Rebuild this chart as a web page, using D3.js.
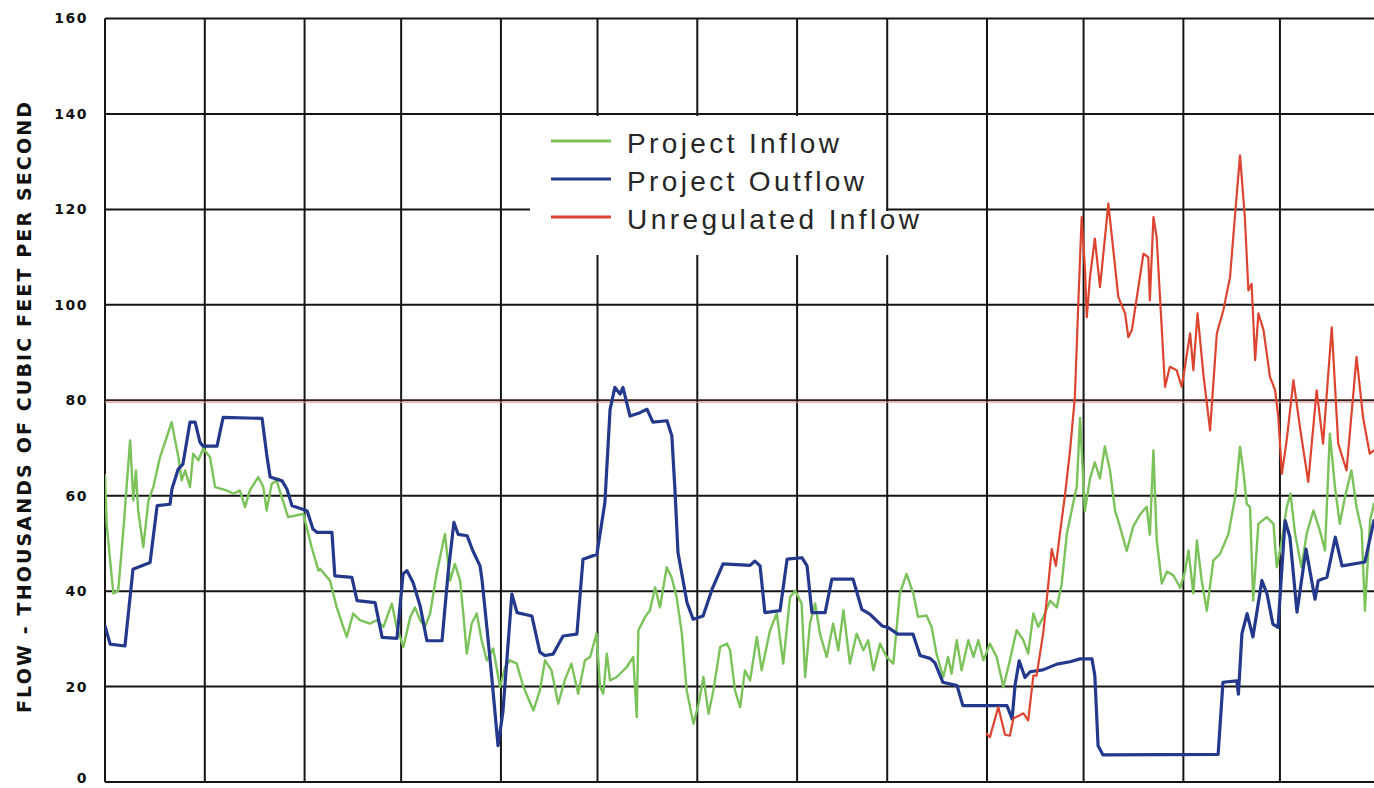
<!DOCTYPE html>
<html><head><meta charset="utf-8">
<script src="https://cdn.jsdelivr.net/npm/d3@7"></script>
<style>html,body{margin:0;padding:0;background:#fff;} svg{display:block;}</style>
</head><body>
<svg id="chart" width="1374" height="788"></svg>
<script>
// ---- data ----
const yTicks = [0, 20, 40, 60, 80, 100, 120, 140, 160];
const yTitle = "FLOW - THOUSANDS OF CUBIC FEET PER SECOND";
const seriesNames = ["Project Inflow", "Project Outflow", "Unregulated Inflow"];
const seriesColors = ["#7cc25a", "#24398c", "#dc4430"];
const startDay = Date.UTC(1984, 6, 1);   // day 0 = first gridline
const endDay = Date.UTC(1985, 7, 1);
// [days since start, thousand cfs]
const projectInflow = [[0,64.3],[0.5,54.1],[2.6,39.5],[4.1,40.1],[5.7,52.7],[7.8,71.6],[8.8,59],[9.6,65.3],[10.3,56.9],[11.9,49.2],[13.5,59],[15,61.8],[17.1,68.1],[19.2,72.3],[20.7,75.4],[22.8,68.1],[23.8,63.2],[24.9,65.3],[26.4,61.8],[27.4,68.8],[29,67.4],[30.5,69.9],[32.6,68.1],[34.2,61.8],[37.8,61.1],[39.9,60.4],[41.9,61.1],[43.5,57.6],[45,61.1],[47.6,63.9],[49.2,61.8],[50.2,56.9],[51.8,62.5],[53.3,63.2],[54.9,59.7],[56.9,55.5],[59.6,55.9],[61.6,56.2],[64.2,49.2],[66.3,44.3],[66.8,44.7],[69.9,42.2],[72,36.6],[74,32.5],[75.1,30.4],[77.1,35.3],[79.2,33.9],[82.3,33.2],[84.4,33.9],[86.5,32.5],[89.1,37.4],[90.6,32.5],[92.7,28.3],[94.8,34.5],[96.3,36.6],[97.9,33.9],[99.4,32.5],[101,35.3],[103,43.6],[105.6,52],[107.2,42.2],[108.7,45.7],[110.3,42.2],[111.3,35.3],[112.4,26.9],[113.9,33.2],[115.5,35.3],[117,29.7],[118.6,25.5],[120.6,28],[122.7,19.9],[124.3,24.1],[125.8,25.5],[127.9,24.8],[130,19.9],[133.1,15],[135.1,19.2],[136.7,25.5],[138.7,23.4],[140.8,16.4],[142.8,21.3],[144.9,24.8],[147,18.5],[149.1,25.5],[150.7,26.2],[152.7,31.1],[153.8,19.9],[154.8,18.5],[155.9,26.9],[156.9,21.3],[159,22],[162.1,24.1],[164.1,26.2],[165.2,13.6],[165.7,31.8],[167.8,34.6],[169.3,36],[170.9,40.8],[172.4,36.6],[174.5,45],[176,42.9],[177.6,38.7],[179.2,31.1],[180.7,19.2],[182.8,12.2],[184.4,16.4],[185.9,22],[187.5,14.3],[189,19.2],[191.1,28.3],[193.2,29],[194.2,27.6],[195.7,19.2],[197.3,15.7],[198.8,23.4],[200.4,21.3],[202.5,30.4],[204,23.4],[206.6,31.8],[208.7,35.3],[210.7,24.8],[212.8,38.7],[214.4,40.1],[216.4,37.4],[217.5,22],[219,33.2],[220.6,37.4],[222.1,31.1],[224.2,26.2],[226.2,33.2],[227.8,27.6],[229.4,36],[231.4,24.8],[233.5,31.1],[235.6,27.6],[237.1,29.7],[238.7,23.4],[240.8,29],[242.8,26.2],[244.9,24.8],[246.9,39.5],[249,43.6],[251.1,39.5],[252.6,34.6],[255.2,34.9],[256.8,32.5],[258.3,26.9],[260.4,22],[261.9,26.2],[263,22.7],[264.6,29.7],[266.1,23.4],[268.2,29.7],[269.8,26.2],[271.3,29.7],[272.9,25.5],[274.9,29],[277,26.2],[279.1,19.9],[281.1,25.5],[283.2,31.8],[285.3,29.7],[286.8,26.9],[288.4,35.3],[289.9,32.5],[291.5,34.6],[293.6,38],[295.7,36.6],[297.2,41.5],[298.8,52],[300.3,56.9],[301.9,62],[302.9,76.3],[304.4,56.8],[306,63.6],[307.5,67],[309.1,63.6],[310.6,70.3],[312.2,65.3],[313.8,56.8],[315.3,53.5],[317.4,48.4],[319.4,53.5],[321.5,56],[323.6,57.7],[324.6,51.8],[325.7,69.5],[326.7,50.9],[328.3,41.6],[329.9,44.1],[331.9,43.3],[334,40.7],[335.5,44.1],[336.6,48.5],[338.1,39.5],[339.2,50.6],[340.7,42.2],[342.3,35.9],[344.3,46.4],[346.4,47.8],[349,52],[351.1,59.7],[352.6,70.2],[353.6,65.3],[354.7,58.3],[355.7,57.6],[356.7,38],[358.3,54.1],[360.9,55.5],[363,54.1],[364,45],[365.6,50.6],[367.1,57.6],[368.3,60.4],[369.7,52],[371.7,45],[373.3,52],[375.4,56.9],[377.4,52.7],[379,48.5],[380.5,73],[382.1,61.8],[383.6,54.1],[385.2,59.7],[387.2,65.3],[388.8,57.6],[390.4,52.7],[391.4,35.9],[393,54.8],[394.2,58.3]];
const projectOutflow = [[0,32.7],[1.6,28.9],[6.2,28.5],[8.7,44.6],[14,46],[16.2,57.9],[20.2,58.2],[20.8,61.4],[22.7,65.5],[24.2,66.6],[26.4,75.4],[28,75.4],[29.5,71.2],[30.4,70.4],[34.8,70.4],[36.7,76.4],[48.8,76.2],[50.3,68.3],[51.3,63.9],[55,63.1],[56.5,61.4],[58.1,57.9],[61.2,57.2],[62.8,56.8],[64.6,53],[65.9,52.3],[70.5,52.3],[71.4,43.2],[76.7,42.9],[78.3,38],[83.9,37.6],[86.1,30.3],[90.7,30.1],[92.6,43.6],[93.8,44.3],[95.7,41.8],[97.9,36.9],[100,29.6],[104.7,29.6],[106.6,43.9],[108.4,54.4],[109.7,51.9],[112.5,51.6],[114.3,48.4],[116.5,45.3],[117.1,42.5],[118.7,32],[120.2,21.6],[122.1,7.6],[123.6,14.6],[126.4,39.4],[128,35.5],[132.6,34.8],[135.1,27.2],[136.7,26.5],[139.2,26.8],[142.3,30.6],[146.6,31],[148.5,46.7],[152.8,47.7],[155.3,58.6],[156.9,78.1],[158.4,82.7],[160,81.3],[160.9,82.7],[163.1,76.7],[166.2,77.4],[168.4,78.1],[170.2,75.4],[174.6,75.7],[176.1,72.5],[177.1,60.7],[178,48.1],[180.8,37.6],[182.7,34.1],[185.8,34.8],[188.6,40.4],[192,45.7],[200.4,45.4],[201.9,46.3],[203.5,45.3],[205,35.5],[209.7,35.9],[211.9,46.7],[216.5,47],[218.1,45.3],[219.6,35.5],[223.7,35.5],[225.8,42.5],[232.4,42.5],[235.1,36.2],[237.6,35.2],[241.4,32.7],[243.2,32.4],[246.3,31],[251,31],[253.2,26.5],[256.3,25.9],[257.8,25],[260.3,20.9],[264.7,20.2],[266.5,16],[280.2,16],[281.8,13.2],[282.7,20.2],[284,25.4],[285.8,21.9],[287.4,23.1],[291.4,23.5],[295.7,24.7],[299.8,25.2],[302.9,25.8],[306.6,25.8],[307.5,22.3],[308.5,7.6],[310,5.7],[345.8,5.8],[347.3,20.9],[351.6,21.2],[352.1,18.4],[353.2,31.1],[354.8,35.3],[356.6,30.4],[359.4,42.2],[361,39.4],[362.8,33.1],[364.4,32.4],[366.6,54.8],[368.1,51.3],[370.3,35.6],[373.1,48.8],[375.9,38.3],[376.9,42.2],[379.6,42.9],[382.2,51.3],[384.3,45.3],[391.4,46.1],[394.2,54.8]];
const unregulatedInflow = [[273.9,10.1],[274.9,9.4],[277.5,15.7],[279.6,9.9],[281.1,9.7],[282.2,13.3],[285.3,14.4],[286.8,12.9],[288.4,22.3],[289.4,22.3],[291.5,31.4],[293,41.1],[294.1,48.8],[295.4,45.3],[296.7,52.3],[298.2,60],[299.8,69.5],[301.3,80.7],[302.4,100.9],[303.4,118.4],[304.4,107.9],[305,97.4],[306,105.8],[307.5,113.9],[309.1,103.7],[311.7,121.2],[314.8,101.6],[316.9,98.2],[317.9,93.2],[319,94.7],[322.6,110.7],[324.1,110],[324.6,100.9],[325.7,118.4],[326.7,114.2],[329.3,82.8],[330.8,87],[332.9,86.3],[334.5,82.8],[337.1,94],[338.1,86.3],[339.4,98.2],[341.2,85.6],[343.3,73.7],[345.4,94],[347.4,98.8],[349.5,105.8],[351,118.4],[352.6,131.3],[354.1,118.4],[355.2,103],[356.2,104.4],[357.3,88.4],[358.3,98.2],[359.9,94.7],[361.9,84.9],[363.5,82.1],[364.5,76.5],[365.6,64.6],[367.1,71.6],[369.2,84.2],[371.2,74.4],[373.8,62.9],[376.4,82.1],[378.4,70.9],[381.1,95.3],[383.1,70.9],[385.7,65.3],[388.8,89.1],[390.8,76.5],[392.9,68.8],[394.2,69.5]];

// ---- drawing ----
const svg = d3.select("#chart");
const W = 1374, H = 788;
const dayMs = 864e5;
const toDate = d => new Date(startDay + d * dayMs);
const x = d3.scaleUtc().domain([new Date(startDay), new Date(endDay)]).range([105, 105 + 396 * 3.219]);
const y = d3.scaleLinear().domain([0, 160]).range([782, 18.5]);

svg.append("rect").attr("width", W).attr("height", H).attr("fill", "#fff");

const grid = svg.append("g").attr("stroke", "#151515").attr("stroke-width", 2);
grid.selectAll("line.h").data(yTicks).join("line").attr("class", "h")
  .attr("x1", x(new Date(startDay))).attr("x2", W)
  .attr("y1", d => y(d)).attr("y2", d => y(d))
  .attr("stroke", d => d === 80 ? "#3a1c16" : "#151515");
svg.append("line").attr("x1", x(new Date(startDay))).attr("x2", W)
  .attr("y1", y(80) + 2).attr("y2", y(80) + 2).attr("stroke", "#e9a0a0").attr("stroke-width", 1);
const months = d3.utcMonth.range(new Date(startDay), new Date(endDay + 1));
grid.selectAll("line.v").data(months).join("line").attr("class", "v")
  .attr("x1", d => x(d)).attr("x2", d => x(d))
  .attr("y1", y(160)).attr("y2", y(0));

// y axis labels
const yAxis = d3.axisLeft(y).tickValues(yTicks).tickSize(0).tickPadding(17);
const ya = svg.append("g").attr("transform", `translate(${x(new Date(startDay))},0)`).call(yAxis);
ya.select(".domain").remove();
ya.selectAll("text").attr("font-family", "DejaVu Sans").attr("font-weight", "bold")
  .attr("font-size", 14).attr("letter-spacing", 1.5).attr("fill", "#111");
ya.selectAll(".tick").filter(d => d === 0).select("text").attr("dy", "0.05em");

// y title
svg.append("text")
  .attr("transform", `translate(31,407.5) rotate(-90)`)
  .attr("text-anchor", "middle")
  .attr("font-family", "DejaVu Sans").attr("font-weight", "bold").attr("font-size", 19)
  .attr("fill", "#111")
  .attr("textLength", 611).attr("lengthAdjust", "spacing")
  .text(yTitle);

// series
const line = d3.line().x(d => x(toDate(d[0]))).y(d => y(d[1]));
const seriesData = [projectInflow, projectOutflow, unregulatedInflow];
const widths = [2.4, 3.2, 2.2];
svg.append("clipPath").attr("id", "plotclip").append("rect")
  .attr("x", 105).attr("y", 0).attr("width", W - 105).attr("height", y(0) + 2);
svg.append("g").attr("clip-path", "url(#plotclip)")
  .selectAll("path").data(seriesData).join("path")
  .attr("d", line).attr("fill", "none")
  .attr("stroke", (d, i) => seriesColors[i]).attr("stroke-width", (d, i) => widths[i])
  .attr("stroke-linejoin", "round").attr("stroke-linecap", "round");

// legend (white box over the grid)
const lg = svg.append("g");
lg.append("rect").attr("x", 530).attr("y", 116).attr("width", 356).attr("height", 139).attr("fill", "#fff");
lg.append("rect").attr("x", 885).attr("y", 211).attr("width", 42).attr("height", 44).attr("fill", "#fff");
const legendY = [141, 179, 217];
const textLen = [212, 237, 292];
seriesNames.forEach((name, i) => {
  lg.append("line").attr("x1", 551).attr("x2", 611).attr("y1", legendY[i]).attr("y2", legendY[i])
    .attr("stroke", seriesColors[i]).attr("stroke-width", 3);
  lg.append("text").attr("x", 627).attr("y", legendY[i] + 12)
    .attr("font-family", "Liberation Sans, Arial, sans-serif").attr("font-size", 28)
    .attr("fill", "#262626").attr("textLength", textLen[i]).attr("lengthAdjust", "spacing")
    .text(name);
});
</script>
</body></html>
